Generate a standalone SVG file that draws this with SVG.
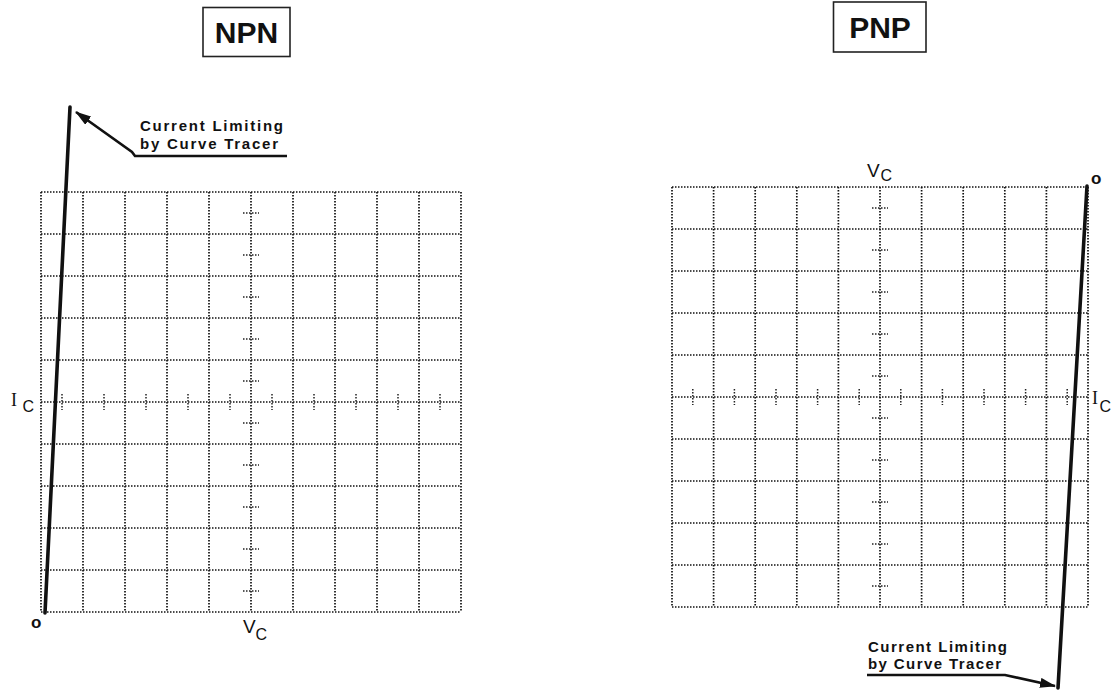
<svg xmlns="http://www.w3.org/2000/svg" width="1116" height="690" viewBox="0 0 1116 690">
<style>
.g{fill:none;stroke:#111;stroke-width:1.7;stroke-dasharray:1.5 1.5}
.t{fill:none;stroke:#222;stroke-width:1.5;stroke-dasharray:1.5 1.5}
.tr{stroke:#111;stroke-width:3.6;stroke-linecap:round;fill:none}
.ar{stroke:#111;stroke-width:2.6;fill:none}
.box{fill:#fff;stroke:#222;stroke-width:1.6}
.big{font-family:"Liberation Sans",Arial,sans-serif;font-size:30px;font-weight:bold;fill:#111}
.lab{font-family:"Liberation Sans",Arial,sans-serif;font-size:15px;font-weight:bold;fill:#111}
.ax{font-family:"Liberation Sans",Arial,sans-serif;fill:#111}
.ser{font-family:"Liberation Serif","Times New Roman",serif;fill:#111}
</style>
<defs>
<marker id="ah" viewBox="0 0 16 10" refX="15" refY="5" markerWidth="16" markerHeight="10" markerUnits="userSpaceOnUse" orient="auto">
<path d="M0,0 L16,5 L0,10 Z" fill="#111"/>
</marker>
</defs>
<rect width="1116" height="690" fill="#fff"/>

<g id="npn-title">
<rect class="box" x="203" y="7.5" width="87" height="49"/>
<text class="big" x="246.5" y="43" text-anchor="middle">NPN</text>
</g>
<g id="pnp-title">
<rect class="box" x="833.5" y="2" width="92.5" height="50"/>
<text class="big" x="880" y="38" text-anchor="middle">PNP</text>
</g>

<g id="npn-graticule">
<path class="g" d="M41,192V612M83,192V612M125,192V612M167,192V612M209,192V612M251,192V612M293,192V612M335,192V612M377,192V612M419,192V612M461,192V612"/>
<path class="g" d="M41,192H461M41,234H461M41,276H461M41,318H461M41,360H461M41,402H461M41,444H461M41,486H461M41,528H461M41,570H461M41,612H461"/>
<path class="t" d="M62,394V410M104,394V410M146,394V410M188,394V410M230,394V410M272,394V410M314,394V410M356,394V410M398,394V410M440,394V410"/>
<path class="t" d="M243,213H259M243,255H259M243,297H259M243,339H259M243,381H259M243,423H259M243,465H259M243,507H259M243,549H259M243,591H259"/>
</g>

<g id="pnp-graticule">
<path class="g" d="M672,187V607M713.6,187V607M755.2,187V607M796.8,187V607M838.4,187V607M880,187V607M921.6,187V607M963.2,187V607M1004.8,187V607M1046.4,187V607M1088,187V607"/>
<path class="g" d="M672,187H1088M672,229H1088M672,271H1088M672,313H1088M672,355H1088M672,397H1088M672,439H1088M672,481H1088M672,523H1088M672,565H1088M672,607H1088"/>
<path class="t" d="M692.8,389V405M734.4,389V405M776,389V405M817.6,389V405M859.2,389V405M900.8,389V405M942.4,389V405M984,389V405M1025.6,389V405M1067.2,389V405"/>
<path class="t" d="M872,208H888M872,250H888M872,292H888M872,334H888M872,376H888M872,418H888M872,460H888M872,502H888M872,544H888M872,586H888"/>
</g>

<g id="npn-trace">
<line class="tr" x1="45" y1="613" x2="70" y2="107"/>
</g>
<g id="pnp-trace">
<line class="tr" x1="1087" y1="186" x2="1058" y2="688"/>
</g>

<g id="connectors">
<path class="ar" d="M287,156H135L132,152L76,112" marker-end="url(#ah)"/>
<path class="ar" d="M867,675H1005L1055,686" marker-end="url(#ah)"/>
</g>

<g id="npn-labels">
<text class="lab" x="140" y="131" textLength="143" lengthAdjust="spacing">Current Limiting</text>
<text class="lab" x="140" y="149" textLength="138" lengthAdjust="spacing">by Curve Tracer</text>
<text class="ax" x="31" y="628" font-size="17" font-weight="bold">o</text>
<text class="ax" x="243" y="633" font-size="19">V</text>
<text class="ax" x="255.5" y="640" font-size="16">C</text>
<text class="ser" x="11" y="405.5" font-size="18">I</text>
<text class="ax" x="22.5" y="411.5" font-size="16">C</text>
</g>

<g id="pnp-labels">
<text class="lab" x="868" y="652" textLength="139" lengthAdjust="spacing">Current Limiting</text>
<text class="lab" x="868" y="669" textLength="133" lengthAdjust="spacing">by Curve Tracer</text>
<text class="ax" x="1091" y="184" font-size="17" font-weight="bold">o</text>
<text class="ax" x="867" y="177" font-size="19">V</text>
<text class="ax" x="880.5" y="181" font-size="16">C</text>
<text class="ser" x="1092" y="403.5" font-size="18">I</text>
<text class="ax" x="1099.5" y="411.5" font-size="16">C</text>
</g>
</svg>
